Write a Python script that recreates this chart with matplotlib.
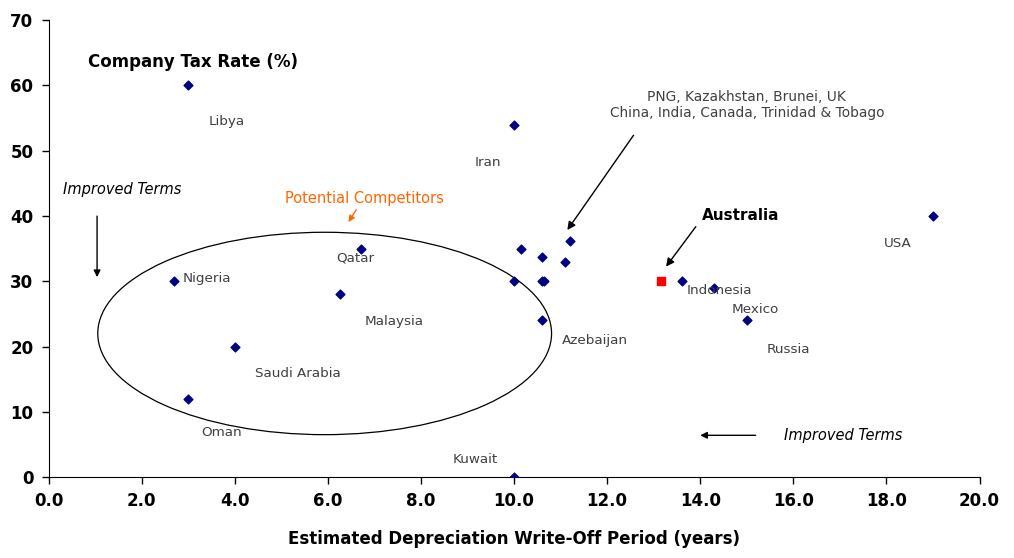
import numpy as np
import matplotlib
matplotlib.use("Agg")
import matplotlib.pyplot as plt
from matplotlib.patches import Ellipse

# data: depreciation write-off period (years) vs company tax rate (%)
other_x = [3.0, 10.0, 2.7, 6.7, 6.25, 4.0, 3.0, 10.0,
           10.15, 10.6, 11.2, 11.1, 10.0, 10.6, 10.65, 10.6,
           13.6, 14.3, 15.0, 19.0]
other_y = [60, 54, 30, 35, 28, 20, 12, 0,
           35, 33.7, 36.1, 33, 30, 30, 30, 24,
           30, 29, 24, 40]
aus_x = [13.15]
aus_y = [30]

label_names = ["Libya", "Iran", "Qatar", "Nigeria", "Malaysia", "Saudi Arabia", "Oman",
               "Kuwait", "Azebaijan", "Indonesia", "Mexico", "Russia", "USA"]
label_x = [3.44, 9.15, 6.18, 2.87, 6.78, 4.44, 3.28, 8.67, 11.03, 13.71, 14.67, 15.43, 17.94]
label_y = [54.4, 48.2, 33.5, 30.4, 23.9, 15.9, 6.85, 2.75, 20.9, 28.6, 25.6, 19.6, 35.8]

fig = plt.figure(figsize=(10.14, 5.58), dpi=100)
ax = fig.add_axes([0.048, 0.145, 0.918, 0.819])

ax.scatter(other_x, other_y, marker="D", s=20, color="#000080", zorder=3)
ax.scatter(aus_x, aus_y, marker="s", s=30, color="#FF0000", zorder=3)

for name, x, y in zip(label_names, label_x, label_y):
    ax.text(x, y, name, fontsize=9.7, color="#404040", ha="left", va="center")

# circle around potential competitors
ax.add_patch(Ellipse((5.93, 22.0), 9.75, 31, fill=False, edgecolor="black", lw=0.9))

ax.text(0.84, 63.6, "Company Tax Rate (%)", fontsize=12, fontweight="bold", va="center")
ax.text(0.31, 44.0, "Improved Terms", fontsize=10.5, style="italic", va="center")
ax.annotate("", xy=(1.04, 30.2), xytext=(1.04, 40.4),
            arrowprops=dict(arrowstyle="-|>", color="black", lw=1, mutation_scale=10))

ax.text(5.08, 42.7, "Potential Competitors", fontsize=10.5, color="#FF6600", va="center")
ax.annotate("", xy=(6.41, 38.7), xytext=(6.64, 41.3),
            arrowprops=dict(arrowstyle="-|>", color="#FF6600", lw=1, mutation_scale=9))

ax.text(15.0, 57.0, "PNG, Kazakhstan, Brunei, UK\nChina, India, Canada, Trinidad & Tobago",
        fontsize=9.9, color="#404040", ha="center", va="center", linespacing=1.25)
ax.annotate("", xy=(11.11, 37.5), xytext=(12.6, 52.7),
            arrowprops=dict(arrowstyle="-|>", color="black", lw=1, mutation_scale=12))

ax.text(14.04, 40.1, "Australia", fontsize=11, fontweight="bold", va="center")
ax.annotate("", xy=(13.23, 31.9), xytext=(13.94, 38.7),
            arrowprops=dict(arrowstyle="-|>", color="black", lw=1, mutation_scale=12))

ax.annotate("", xy=(13.94, 6.4), xytext=(15.25, 6.4),
            arrowprops=dict(arrowstyle="-|>", color="black", lw=1, mutation_scale=10))
ax.text(15.79, 6.4, "Improved Terms", fontsize=10.5, style="italic", va="center")

ax.set_xlim(0, 20)
ax.set_ylim(0, 70)
ax.set_xticks(np.arange(0, 21, 2))
ax.set_xticklabels([f"{v:.1f}" for v in np.arange(0, 21, 2)])
ax.set_yticks(np.arange(0, 71, 10))
for lab in ax.get_xticklabels() + ax.get_yticklabels():
    lab.set_fontweight("bold")
    lab.set_fontsize(12)
ax.tick_params(direction="out", length=5, width=1, pad=6)
ax.spines["top"].set_visible(False)
ax.spines["right"].set_visible(False)
ax.set_xlabel("Estimated Depreciation Write-Off Period (years)", fontsize=12,
              fontweight="bold", labelpad=14)

fig.savefig("out.png", dpi=100)
